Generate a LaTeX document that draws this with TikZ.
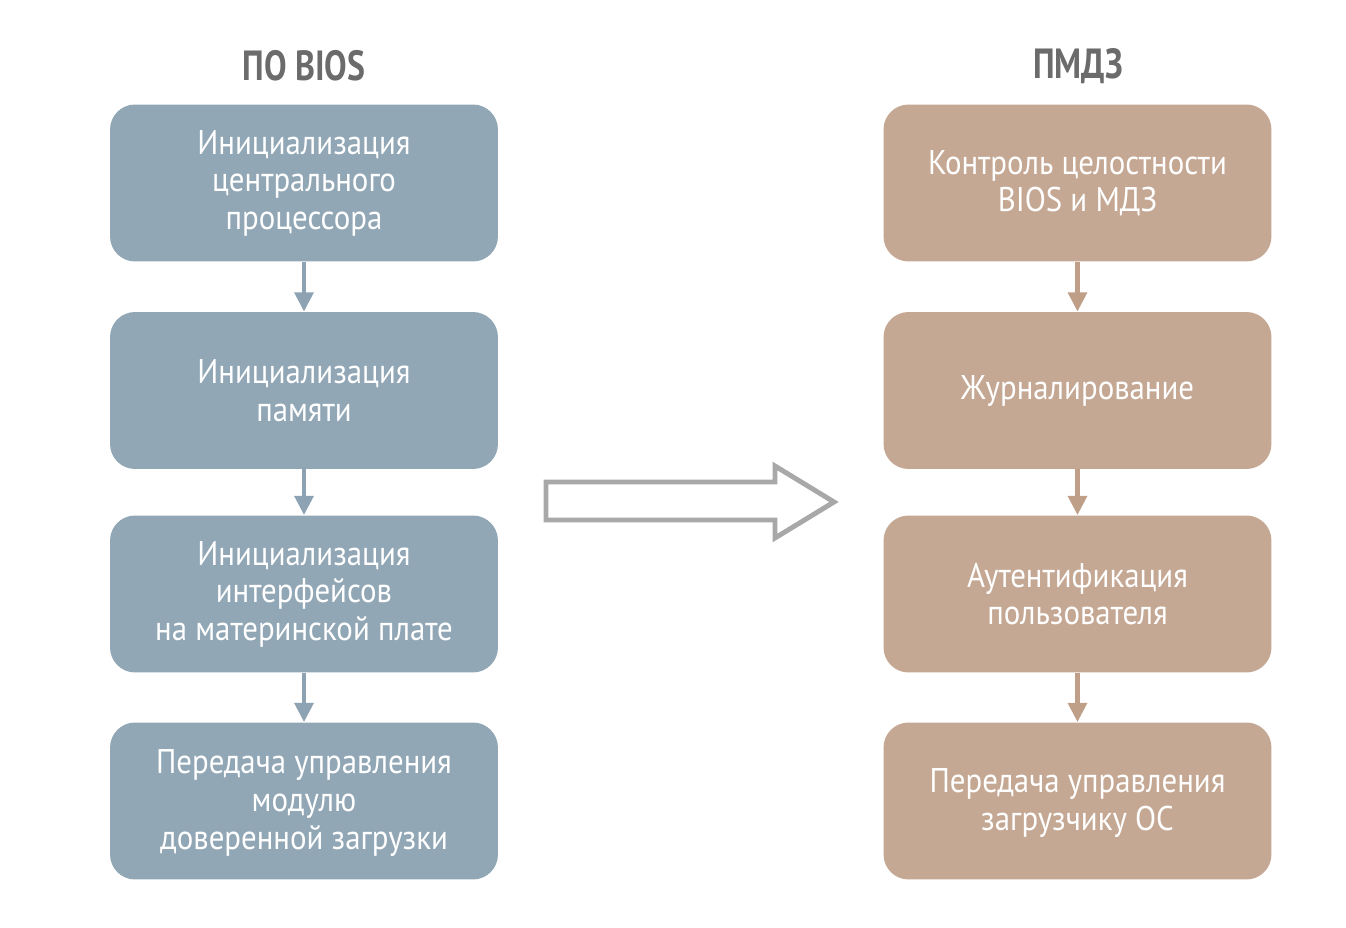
\documentclass[tikz,border=0pt]{standalone}
\usepackage{fontspec}
\setmainfont{PT Sans}[FakeStretch=0.9]
\newfontfamily\headfont{PT Sans}[FakeStretch=0.8]
\usetikzlibrary{arrows.meta}
\definecolor{bluebox}{HTML}{91A7B6}
\definecolor{tanbox}{HTML}{C5A893}
\definecolor{bluearr}{HTML}{8DA3B3}
\definecolor{tanarr}{HTML}{BF9F87}
\definecolor{headgray}{HTML}{6B6B6B}
\definecolor{bigarr}{HTML}{A8A8A8}
\begin{document}
\begin{tikzpicture}[x=0.02cm,y=-0.02cm,
  box/.style={rounded corners=0.5cm, minimum width=7.76cm, minimum height=3.14cm, text=white, align=center, font=\fontsize{19.5}{21.5}\selectfont, inner sep=0pt},
  bbox/.style={box, fill=bluebox},
  tbox/.style={box, fill=tanbox},
  head/.style={text=headgray, font=\headfont\fontsize{24}{26}\selectfont\bfseries},
  barrow/.style={draw=bluearr, line width=2.8pt, -{Triangle[width=10.5pt,length=11pt]}},
  tarrow/.style={draw=tanarr, line width=2.8pt, -{Triangle[width=10.5pt,length=11pt]}}
]
\useasboundingbox (0,0) rectangle (1346,928);
\node[head] (h1) at (304,66) {ПО BIOS};
\node[head] (h2) at (1078,66) {ПМДЗ};
\node[bbox] (l1) at (304,183) {\rule{0pt}{14pt}Инициализация\\центрального\\процессора};
\node[bbox] (l2) at (304,390.5) {\rule{0pt}{14pt}Инициализация\\памяти};
\node[bbox] (l3) at (304,594) {\rule{0pt}{14pt}Инициализация\\интерфейсов\\на материнской плате};
\node[bbox] (l4) at (304,801) {\rule{0pt}{16pt}Передача управления\\модулю\\доверенной загрузки};
\node[tbox] (r1) at (1077.5,183) {\rule{0pt}{14pt}Контроль целостности\\BIOS и МДЗ};
\node[tbox] (r2) at (1077.5,390.5) {\rule{0pt}{14pt}Журналирование};
\node[tbox] (r3) at (1077.5,594) {\rule{0pt}{14pt}Аутентификация\\пользователя};
\node[tbox] (r4) at (1077.5,801) {\rule{0pt}{16pt}Передача управления\\загрузчику ОС};
\draw[barrow] (l1) -- (l2);
\draw[barrow] (l2) -- (l3);
\draw[barrow] (l3) -- (l4);
\draw[tarrow] (r1) -- (r2);
\draw[tarrow] (r2) -- (r3);
\draw[tarrow] (r3) -- (r4);
\draw[draw=bigarr, line width=2.8pt, line join=miter]
  (546,482) -- (775,482) -- (775,466) -- (834,502) -- (775,538) -- (775,520) -- (546,520) -- cycle;
\end{tikzpicture}
\end{document}
